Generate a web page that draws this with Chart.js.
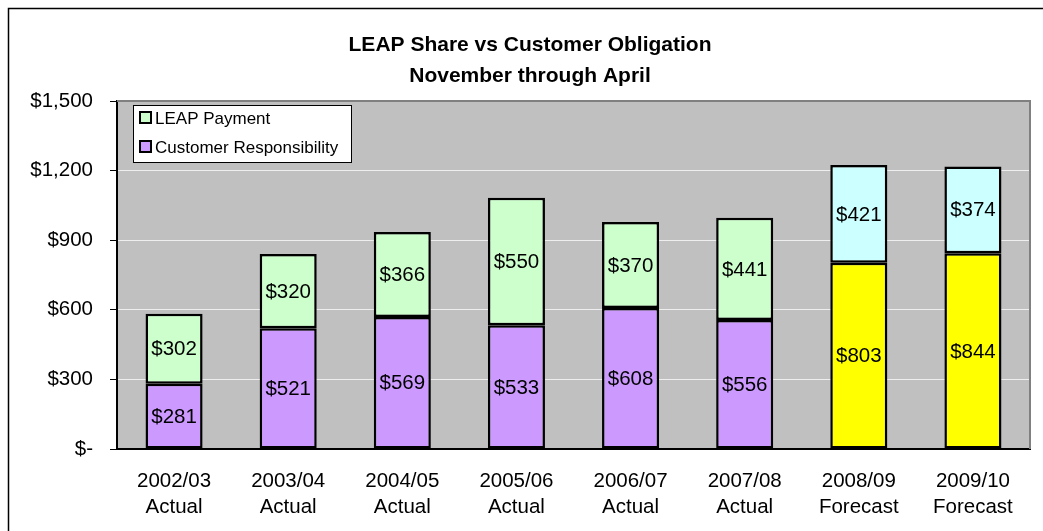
<!DOCTYPE html>
<html>
<head>
<meta charset="utf-8">
<script src="https://cdn.jsdelivr.net/npm/chart.js@4"></script>
<style>
  html, body { margin: 0; padding: 0; background: #ffffff; }
  #wrap { width: 1043px; height: 531px; position: relative; }
</style>
</head>
<body>
<div id="wrap"><canvas id="c" width="1043" height="531"></canvas></div>
<script>
// ---- data ----
const categories = [
  ["2002/03", "Actual"], ["2003/04", "Actual"], ["2004/05", "Actual"], ["2005/06", "Actual"],
  ["2006/07", "Actual"], ["2007/08", "Actual"], ["2008/09", "Forecast"], ["2009/10", "Forecast"]
];
const customerResponsibility = [281, 521, 569, 533, 608, 556, 803, 844];
const leapPayment = [302, 320, 366, 550, 370, 441, 421, 374];
const isForecast = [false, false, false, false, false, false, true, true];
const titleLines = ["LEAP Share vs Customer Obligation", "November through April"];
const yTicks = [0, 300, 600, 900, 1200, 1500];

const FONT = "'Liberation Sans', Arial, sans-serif";
const colCustomer = isForecast.map(f => f ? "#FFFF00" : "#CC99FF");
const colLeap = isForecast.map(f => f ? "#CCFFFF" : "#CCFFCC");

function money(v) {
  if (v === 0) return "$-";
  return "$" + v.toLocaleString("en-US");
}

const bgPlugin = {
  id: "bg",
  beforeDraw(chart) {
    const { ctx, chartArea: a } = chart;
    ctx.save();
    ctx.fillStyle = "#C0C0C0";
    ctx.fillRect(a.left, a.top, a.right - a.left, a.bottom - a.top);
    ctx.restore();
  },
  beforeDatasetsDraw(chart) {
    const { ctx, chartArea: a } = chart;
    ctx.save();
    ctx.strokeStyle = "#808080";
    ctx.lineWidth = 2;
    ctx.beginPath();
    ctx.moveTo(a.left, a.top);
    ctx.lineTo(a.right, a.top);
    ctx.lineTo(a.right, a.bottom);
    ctx.stroke();
    ctx.restore();
  },
  afterDraw(chart) {
    const { ctx, chartArea: a } = chart;
    ctx.save();
    // outer border (chart cropped at right/bottom)
    ctx.strokeStyle = "#000000";
    ctx.lineWidth = 1.5;
    ctx.strokeRect(8.5, 8.5, 1100, 600);
    // title
    ctx.fillStyle = "#000000";
    ctx.font = "bold 21px " + FONT;
    ctx.textAlign = "center";
    ctx.textBaseline = "alphabetic";
    ctx.fillText(titleLines[0], 530, 51);
    ctx.fillText(titleLines[1], 530, 82);
    // legend box
    const lx = a.left + 16, ly = a.top + 4, lw = 218, lh = 57;
    ctx.fillStyle = "#FFFFFF";
    ctx.fillRect(lx, ly, lw, lh);
    ctx.strokeStyle = "#000000";
    ctx.lineWidth = 1;
    ctx.strokeRect(lx + 0.5, ly + 0.5, lw, lh);
    const items = [
      { text: chart.data.datasets[1].label, color: "#CCFFCC", y: ly + 13 },
      { text: chart.data.datasets[0].label, color: "#CC99FF", y: ly + 42 }
    ];
    ctx.font = "17px " + FONT;
    ctx.textAlign = "left";
    ctx.textBaseline = "middle";
    items.forEach(it => {
      ctx.fillStyle = it.color;
      ctx.fillRect(lx + 7, it.y - 6, 11, 11);
      ctx.strokeStyle = "#000000";
      ctx.lineWidth = 2;
      ctx.strokeRect(lx + 7, it.y - 6, 11, 11);
      ctx.fillStyle = "#000000";
      ctx.fillText(it.text, lx + 22, it.y + 1);
    });
    ctx.restore();
  }
};

const labelPlugin = {
  id: "barLabels",
  afterDatasetsDraw(chart) {
    const { ctx } = chart;
    ctx.save();
    ctx.font = "20.5px " + FONT;
    ctx.fillStyle = "#000000";
    ctx.textAlign = "center";
    ctx.textBaseline = "middle";
    chart.data.datasets.forEach((ds, di) => {
      const meta = chart.getDatasetMeta(di);
      meta.data.forEach((el, i) => {
        const p = el.getProps(["x", "y", "base"], true);
        ctx.fillText(money(ds.data[i]), p.x, (p.y + p.base) / 2 + 1);
      });
    });
    ctx.restore();
  }
};

new Chart(document.getElementById("c"), {
  type: "bar",
  data: {
    labels: categories,
    datasets: [
      {
        label: "Customer Responsibility",
        data: customerResponsibility,
        backgroundColor: colCustomer,
        borderColor: "#000000",
        borderWidth: 2.5,
        borderSkipped: false,
        barPercentage: 0.5,
        categoryPercentage: 1.0
      },
      {
        label: "LEAP Payment",
        data: leapPayment,
        backgroundColor: colLeap,
        borderColor: "#000000",
        borderWidth: 2.5,
        borderSkipped: false,
        barPercentage: 0.5,
        categoryPercentage: 1.0
      }
    ]
  },
  options: {
    responsive: false,
    devicePixelRatio: 1,
    animation: false,
    layout: { padding: { left: 0, right: 13, top: 101, bottom: 0 } },
    plugins: {
      legend: { display: false },
      title: { display: false },
      tooltip: { enabled: false }
    },
    scales: {
      x: {
        stacked: true,
        grid: { display: false, drawTicks: false },
        border: { display: true, color: "#000000", width: 2 },
        ticks: {
          color: "#000000",
          font: { family: FONT, size: 20.5, lineHeight: 1.27 },
          padding: 19,
          maxRotation: 0,
          autoSkip: false
        },
        afterFit(scale) { scale.height = 82; }
      },
      y: {
        stacked: true,
        min: 0,
        max: 1500,
        afterBuildTicks(scale) { scale.ticks = yTicks.map(v => ({ value: v })); },
        grid: {
          color: (c) => (c.tick && (c.tick.value === 0 || c.tick.value === 1500)) ? "rgba(0,0,0,0)" : "#EEEEEE",
          lineWidth: 1,
          drawTicks: true,
          tickLength: 7,
          tickColor: "#000000"
        },
        border: { display: true, color: "#000000", width: 2 },
        ticks: {
          color: "#000000",
          font: { family: FONT, size: 20.5 },
          padding: 17,
          callback: (v) => money(v)
        },
        afterFit(scale) { scale.width = 117; }
      }
    }
  },
  plugins: [bgPlugin, labelPlugin]
});
</script>
</body>
</html>
